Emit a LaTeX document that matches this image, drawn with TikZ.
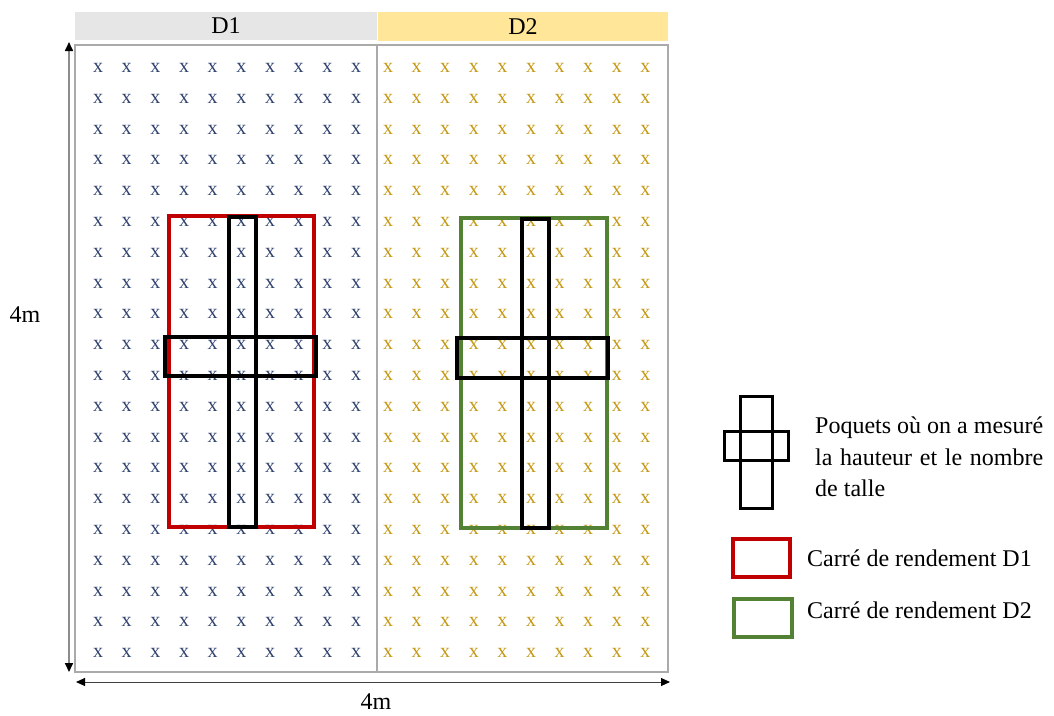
\documentclass[tikz,border=0pt]{standalone}
\usepackage{fontspec}
\setmainfont{Liberation Serif}
\usetikzlibrary{arrows.meta}
\definecolor{navyx}{RGB}{48,66,110}
\definecolor{goldx}{RGB}{196,152,20}
\definecolor{hdrgray}{RGB}{231,230,230}
\definecolor{hdrgold}{RGB}{255,230,153}
\definecolor{boxred}{RGB}{192,0,0}
\definecolor{boxgreen}{RGB}{84,130,53}
\definecolor{framegray}{RGB}{170,170,170}
\newlength\legw
\begin{document}
\begin{tikzpicture}[x=1pt,y=-1pt,
  plantA/.style={text=navyx,font=\fontsize{20}{20}\selectfont,inner sep=0pt},
  plantB/.style={text=goldx,font=\fontsize{20}{20}\selectfont,inner sep=0pt},
  header/.style={inner sep=0pt,font=\fontsize{24}{24}\selectfont},
  lbl/.style={inner sep=0pt,font=\fontsize{24}{24}\selectfont},
  yieldD1/.style={draw=boxred,line width=3.5pt},
  yieldD2/.style={draw=boxgreen,line width=3.5pt},
  poquet/.style={draw=black,line width=3.5pt},
  dimarrow/.style={{Triangle[length=9pt,width=8pt,color=black]}-{Triangle[length=9pt,width=8pt,color=black]}}
]
\useasboundingbox (0,0) rectangle (1054,715);

% headers
\node[header,fill=hdrgray,minimum width=302pt,minimum height=28pt] (hD1) at (226,26) {D1};
\node[header,fill=hdrgold,minimum width=290pt,minimum height=29pt] (hD2) at (523,26.5) {D2};

% grid of plants
\foreach \r in {0,...,19}{
  \foreach \c in {0,...,9}{
    \node[plantA] (a-\r-\c) at ({98+\c*28.67},{68+\r*30.79}) {x};
    \node[plantB] (b-\r-\c) at ({388+\c*28.6},{68+\r*30.79}) {x};
  }
}

% frame
\draw[framegray,line width=1.6pt] (75,45) rectangle (668,672);
\draw[framegray,line width=1.6pt] (377,45) -- (377,672);

% D1 yield square and poquets
\draw[yieldD1] (169,216) rectangle (314,527);
\draw[poquet] (229,217) rectangle (256,527);
\draw[poquet] (165,337) rectangle (316,376);

% D2 yield square and poquets
\draw[yieldD2] (461,218) rectangle (607,528);
\draw[poquet] (522,219) rectangle (549,528);
\draw[poquet] (457,338) rectangle (608,378);

% dimension arrows
\coordinate (vt) at (69,42);
\coordinate (vb) at (69,672);
\coordinate (hl) at (76,682);
\coordinate (hr) at (670,682);
\draw[dimarrow,draw=black!45,line width=1.6pt] (vt) -- (vb);
\draw[dimarrow,draw=black!75,line width=1pt] (hl) -- (hr);
\node[lbl] (hgt) at (25,315) {4m};
\node[lbl] (wdt) at (376,702) {4m};

% legend
\draw[draw=black,line width=3pt] (740,396) rectangle (772,508);
\draw[draw=black,line width=3pt] (724,431) rectangle (788,460);
\node[lbl,anchor=base west] (leg1) at (815,433) {Poquets où on a mesuré};
\node[lbl,anchor=base west] (leg2) at (815,465) {\settowidth{\legw}{Poquets où on a mesuré}\makebox[\legw][s]{la hauteur et le nombre}};
\node[lbl,anchor=base west] (leg3) at (815,496) {de talle};

\draw[yieldD1] (733,539) rectangle (790,577);
\node[lbl,anchor=west] (leg4) at (807,558) {Carré de rendement D1};
\draw[yieldD2] (734,599) rectangle (792,637);
\node[lbl,anchor=west] (leg5) at (807,610) {Carré de rendement D2};
\end{tikzpicture}
\end{document}
